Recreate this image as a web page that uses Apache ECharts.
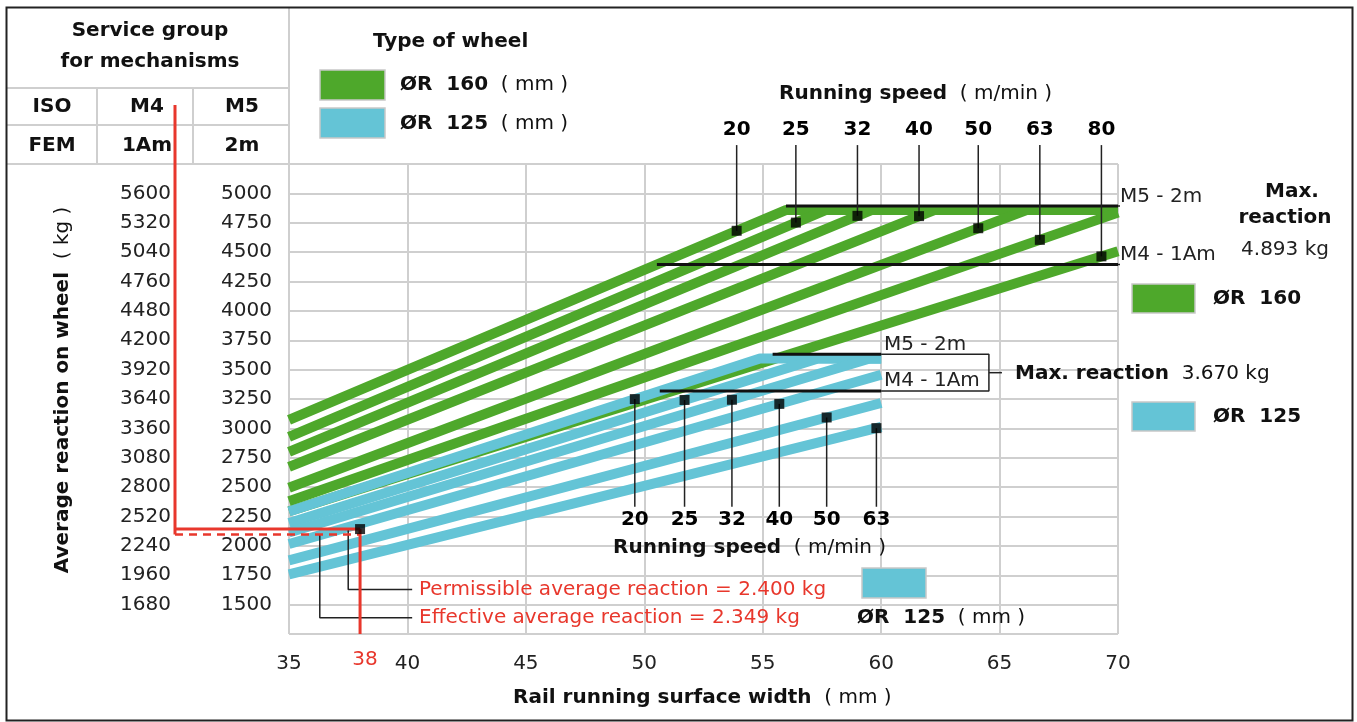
<!DOCTYPE html>
<html>
<head>
<meta charset="utf-8">
<title>Average reaction on wheel</title>
<script src="https://cdn.jsdelivr.net/npm/echarts@6/dist/echarts.min.js"></script>
<style>
  html, body { margin: 0; padding: 0; background: #fff; }
  #chart { width: 1357px; height: 722px; }
</style>
</head>
<body>
<div id="chart"></div>
<script>
// x: rail running surface width (mm), y: average reaction in the M5 scale (kg)
const xMin = 35
const xMax = 70
const yMin = 1250
const yMax = 5250
const m4Factor = 1.12   // M4 scale = M5 scale * 1.12

// ØR 160 bands, one per running speed: reaction at 35 mm and at 70 mm (M5 kg)
const greenSpeeds = [20, 25, 32, 40, 50, 63, 80]
const greenAt35 = [3073, 2928, 2801, 2673, 2495, 2380, 2294]
const greenAt70 = [6052, 5910, 5729, 5480, 5151, 4836, 4508]
const greenMarkX = [53.9, 56.4, 59.0, 61.6, 64.1, 66.7, 69.3]

// ØR 125 bands: reaction at 35 mm and at 60 mm (M5 kg)
const blueSpeeds = [20, 25, 32, 40, 50, 63]
const blueAt35 = [2293, 2195, 2114, 2016, 1876, 1757]
const blueAt60 = [3930, 3762, 3624, 3456, 3216, 3012]
const blueMarkX = [49.6, 51.7, 53.7, 55.7, 57.7, 59.8]

// max reaction lines (M5 kg)
const greenMaxM5 = 4893
const greenMaxM4 = 4395
const blueMaxM5 = 3630
const blueMaxM4 = 3318

// worked example
const exampleWidth = 38
const permissible = 2400   // kg, M4
const effective = 2349     // kg, M4

const GREEN = '#4ea82b'
const BLUE = '#64c4d6'
const RED = '#e8372c'
const FONT = 'DejaVu Sans'

// band is flattened once it reaches the max line (centre sits a bit under the line)
function bandData (x0, y0, x1, y1, cap) {
  if (y1 <= cap) return [[x0, y0], [x1, y1]]
  const xc = x0 + (cap - y0) * (x1 - x0) / (y1 - y0)
  return [[x0, y0], [xc, cap], [x1, cap]]
}
function bandValue (x0, y0, x1, y1, cap, x) {
  return Math.min(cap, y0 + (y1 - y0) * (x - x0) / (x1 - x0))
}
function crossX (x0, y0, x1, y1, v) {
  return x0 + (v - y0) * (x1 - x0) / (y1 - y0)
}
function seg (data, color, width, extra) {
  return Object.assign({
    type: 'line',
    data: data,
    symbol: 'none',
    silent: true,
    clip: false,
    animation: false,
    lineStyle: { color: color, width: width },
    z: 4
  }, extra || {})
}

const series = []
const greenCap = greenMaxM5 - 35
const blueCap = blueMaxM5 - 35

// bands
greenSpeeds.forEach((s, i) => {
  series.push(seg(bandData(35, greenAt35[i], 70, greenAt70[i], greenCap), GREEN, 10, { clip: true, z: 2 }))
})
blueSpeeds.forEach((s, i) => {
  series.push(seg(bandData(35, blueAt35[i], 60, blueAt60[i], blueCap), BLUE, 10, { clip: true, z: 3 }))
})

// max reaction lines + brackets
const gx5 = crossX(35, greenAt35[0], 70, greenAt70[0], greenMaxM5) - 0.4
const gx4 = crossX(35, greenAt35[0], 70, greenAt70[0], greenMaxM4)
const bx5 = crossX(35, blueAt35[0], 60, blueAt60[0], blueMaxM5)
const bx4 = crossX(35, blueAt35[0], 60, blueAt60[0], blueMaxM4)
const gBracket = 74.5
const bBracket = 64.55
series.push(seg([[gx5, greenMaxM5], [70, greenMaxM5]], '#111', 3))
series.push(seg([[gx4, greenMaxM4], [70, greenMaxM4]], '#111', 3))
series.push(seg([[70, greenMaxM5], [gBracket, greenMaxM5], [gBracket, greenMaxM4], [70, greenMaxM4]], '#222', 1.5))
series.push(seg([[gBracket, (greenMaxM5 + greenMaxM4) / 2], [gBracket + 0.55, (greenMaxM5 + greenMaxM4) / 2]], '#222', 1.5))
series.push(seg([[bx5, blueMaxM5], [60, blueMaxM5]], '#111', 3))
series.push(seg([[bx4, blueMaxM4], [60, blueMaxM4]], '#111', 3))
series.push(seg([[60, blueMaxM5], [bBracket, blueMaxM5], [bBracket, blueMaxM4], [60, blueMaxM4]], '#222', 1.5))
series.push(seg([[bBracket, (blueMaxM5 + blueMaxM4) / 2], [bBracket + 0.55, (blueMaxM5 + blueMaxM4) / 2]], '#222', 1.5))

// speed leaders and markers
const greenMarks = greenSpeeds.map((s, i) => [greenMarkX[i], bandValue(35, greenAt35[i], 70, greenAt70[i], greenCap, greenMarkX[i]), s])
const blueMarks = blueSpeeds.map((s, i) => [blueMarkX[i], bandValue(35, blueAt35[i], 60, blueAt60[i], blueCap, blueMarkX[i]), s])
greenMarks.forEach(p => series.push(seg([[p[0], p[1]], [p[0], 5411]], '#222', 1.5)))
blueMarks.forEach(p => series.push(seg([[p[0], p[1]], [p[0], 2333]], '#222', 1.5)))

// worked example at 38 mm
const permM5 = permissible / m4Factor
const effM5 = effective / m4Factor
series.push(seg([[exampleWidth, permM5], [exampleWidth, yMin]], RED, 3, { z: 5 }))
series.push(seg([[37.5, permM5], [37.5, 1628], [40.2, 1628]], '#222', 1.5))
series.push(seg([[36.3, effM5], [36.3, 1389], [40.2, 1389]], '#222', 1.5))

series.push({
  type: 'scatter',
  symbol: 'rect',
  symbolSize: 10,
  silent: true,
  clip: false,
  itemStyle: { color: '#000' },
  z: 6,
  data: greenMarks.concat(blueMarks).concat([[exampleWidth, permM5]])
})

// speed labels
function speedLabels (marks, y) {
  return {
    type: 'scatter',
    symbolSize: 1,
    silent: true,
    clip: false,
    itemStyle: { color: 'transparent' },
    z: 6,
    data: marks.map(p => [p[0], y, p[2]]),
    label: {
      show: true,
      position: 'inside',
      formatter: p => p.value[2],
      color: '#000',
      opacity: 1,
      textBorderWidth: 0,
      fontFamily: FONT,
      fontSize: 20,
      fontWeight: 'bold'
    }
  }
}
series.push(speedLabels(greenMarks, 5538))
series.push(speedLabels(blueMarks, 2222))

const rich = {
  b: { fontFamily: FONT, fontSize: 20, fontWeight: 'bold', color: '#111' },
  n: { fontFamily: FONT, fontSize: 20, color: '#222' }
}
function txt (x, y, text, opts) {
  return {
    type: 'text',
    x: x,
    y: y,
    z: 10,
    rotation: (opts && opts.rotation) || 0,
    style: {
      text: text,
      rich: rich,
      fill: (opts && opts.color) || '#111',
      font: ((opts && opts.bold) ? 'bold ' : '') + '20px "' + FONT + '"',
      align: (opts && opts.align) || 'left',
      verticalAlign: 'middle'
    }
  }
}
function box (x, y, w, h, color) {
  return { type: 'rect', z: 10, shape: { x: x, y: y, width: w, height: h }, style: { fill: color, stroke: '#c8c8c8', lineWidth: 1.5 } }
}
function ln (x1, y1, x2, y2, color, w) {
  return { type: 'line', z: 1, shape: { x1: x1, y1: y1, x2: x2, y2: y2 }, style: { stroke: color || '#cfcfcf', lineWidth: w || 2 } }
}

const graphic = [
  { type: 'rect', z: 20, shape: { x: 6.5, y: 7.5, width: 1346, height: 713 }, style: { fill: 'none', stroke: '#222', lineWidth: 2 } },
  // service group table
  ln(7, 88, 289, 88), ln(7, 125, 289, 125), ln(7, 164, 289, 164),
  ln(97, 88, 97, 164), ln(193, 88, 193, 164), ln(289, 7, 289, 164),
  txt(150, 31, 'Service group', { bold: true, align: 'center' }),
  txt(150, 62, 'for mechanisms', { bold: true, align: 'center' }),
  txt(52, 107, 'ISO', { bold: true, align: 'center' }),
  txt(147, 107, 'M4', { bold: true, align: 'center' }),
  txt(242, 107, 'M5', { bold: true, align: 'center' }),
  txt(52, 146, 'FEM', { bold: true, align: 'center' }),
  txt(147, 146, '1Am', { bold: true, align: 'center' }),
  txt(242, 146, '2m', { bold: true, align: 'center' }),
  // type of wheel legend
  txt(373, 42, 'Type of wheel', { bold: true }),
  box(320, 70, 65, 30, GREEN),
  box(320, 108, 65, 30, BLUE),
  txt(400, 85, '{b|ØR  160}  {n|( mm )}'),
  txt(400, 124, '{b|ØR  125}  {n|( mm )}'),
  txt(779, 94, '{b|Running speed}  {n|( m/min )}'),
  // green max reaction
  txt(1120, 197, 'M5 - 2m', { color: '#222' }),
  txt(1120, 255, 'M4 - 1Am', { color: '#222' }),
  txt(1292, 192, 'Max.', { bold: true, align: 'center' }),
  txt(1285, 218, 'reaction', { bold: true, align: 'center' }),
  txt(1285, 250, '4.893 kg', { color: '#222', align: 'center' }),
  box(1132, 284, 63, 29, GREEN),
  txt(1213, 299, 'ØR  160', { bold: true }),
  // blue max reaction
  txt(884, 345, 'M5 - 2m', { color: '#222' }),
  txt(884, 381, 'M4 - 1Am', { color: '#222' }),
  txt(1015, 374, '{b|Max. reaction}  {n|3.670 kg}'),
  box(1132, 402, 63, 29, BLUE),
  txt(1213, 417, 'ØR  125', { bold: true }),
  txt(613, 548, '{b|Running speed}  {n|( m/min )}'),
  box(862, 568, 64, 30, BLUE),
  txt(857, 618, '{b|ØR  125}  {n|( mm )}'),
  // worked example texts
  txt(419, 590, 'Permissible average reaction = 2.400 kg', { color: RED }),
  txt(419, 618, 'Effective average reaction = 2.349 kg', { color: RED }),
  txt(365, 660, String(exampleWidth), { color: RED, align: 'center' }),
  // axis titles
  txt(513, 698, '{b|Rail running surface width}  {n|( mm )}'),
  txt(63, 390, '{b|Average reaction on wheel}  {n|( kg )}', { align: 'center', rotation: Math.PI / 2 })
]

const chart = echarts.init(document.getElementById('chart'))
chart.setOption({
  animation: false,
  backgroundColor: '#fff',
  textStyle: { fontFamily: FONT },
  grid: { left: 289, right: 239, top: 164, bottom: 88 },
  xAxis: {
    type: 'value',
    min: xMin,
    max: xMax,
    interval: 5,
    axisLine: { show: false },
    axisTick: { show: false },
    splitLine: { show: true, lineStyle: { color: '#cfcfcf', width: 2 } },
    axisLabel: { fontSize: 20, color: '#222', margin: 20, fontFamily: FONT }
  },
  yAxis: [
    {
      type: 'value',
      min: yMin,
      max: yMax,
      interval: 250,
      axisLine: { show: false },
      axisTick: { show: false },
      splitLine: { show: true, lineStyle: { color: '#cfcfcf', width: 2 } },
      axisLabel: {
        fontSize: 20, color: '#222', margin: 17, fontFamily: FONT,
        formatter: v => (v === yMin || v === yMax) ? '' : v
      }
    },
    {
      type: 'value',
      min: yMin,
      max: yMax,
      interval: 250,
      position: 'left',
      offset: 101,
      axisLine: { show: false },
      axisTick: { show: false },
      splitLine: { show: false },
      axisLabel: {
        fontSize: 20, color: '#222', margin: 17, fontFamily: FONT,
        formatter: v => (v === yMin || v === yMax) ? '' : Math.round(v * m4Factor)
      }
    }
  ],
  series: series,
  graphic: graphic
})

// red guide from the M4 column down to the example point (outside the plot area)
const m4ColumnPx = 175
const pPerm = chart.convertToPixel({ xAxisIndex: 0, yAxisIndex: 0 }, [exampleWidth, permM5])
const pEff = chart.convertToPixel({ xAxisIndex: 0, yAxisIndex: 0 }, [exampleWidth, effM5])
chart.setOption({
  graphic: graphic.concat([
    { type: 'polyline', z: 5, shape: { points: [[m4ColumnPx, 105], [m4ColumnPx, pEff[1]]] }, style: { stroke: RED, lineWidth: 3, fill: 'none' } },
    { type: 'polyline', z: 5, shape: { points: [[m4ColumnPx, pPerm[1]], [pPerm[0], pPerm[1]]] }, style: { stroke: RED, lineWidth: 3, fill: 'none' } },
    { type: 'polyline', z: 5, shape: { points: [[m4ColumnPx, pEff[1]], [pEff[0], pEff[1]]] }, style: { stroke: RED, lineWidth: 2.5, fill: 'none', lineDash: [8, 6] } }
  ])
})
</script>
</body>
</html>
